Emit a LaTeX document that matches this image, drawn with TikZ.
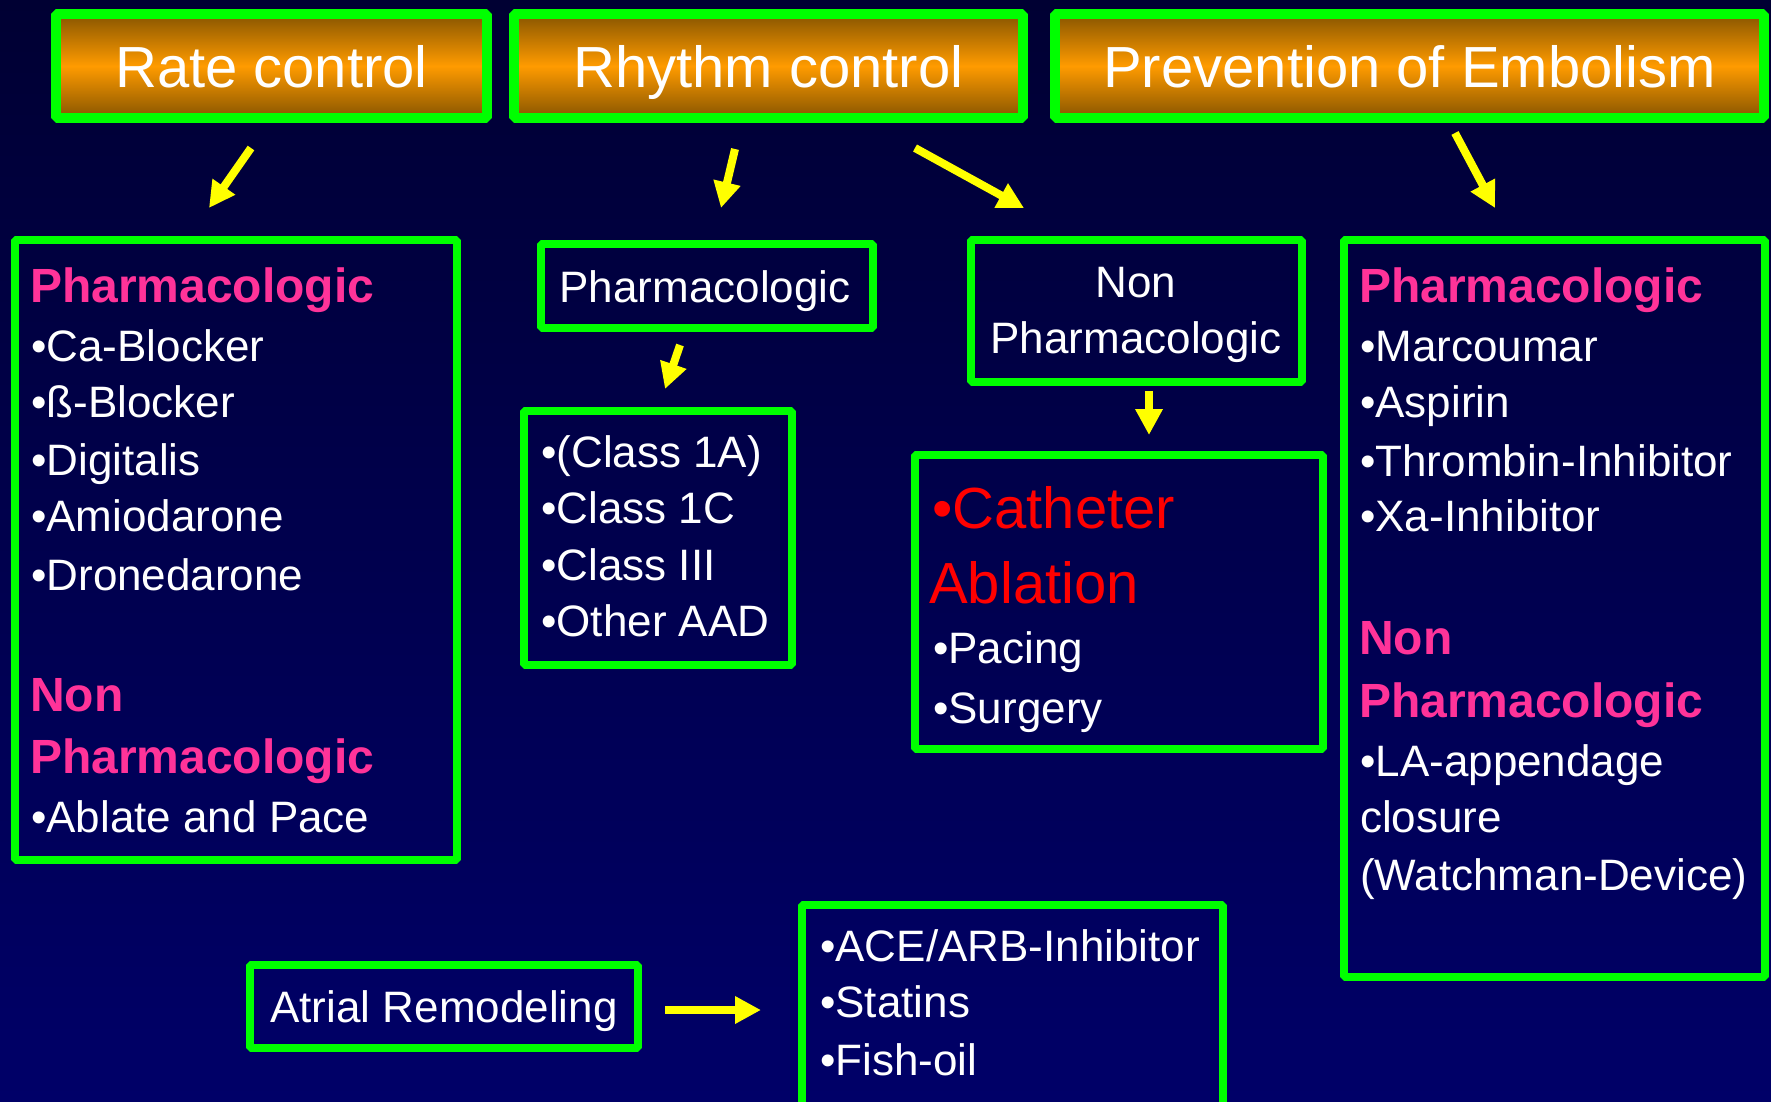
\documentclass[tikz,border=0pt]{standalone}
\usepackage{fontspec}
\setmainfont{Liberation Sans}
\usetikzlibrary{arrows.meta}
\definecolor{bgtop}{RGB}{0,0,51}
\definecolor{bgbot}{RGB}{0,0,104}
\definecolor{grn}{RGB}{0,255,0}
\definecolor{hdark}{RGB}{135,85,0}
\definecolor{horange}{RGB}{255,155,0}
\definecolor{pinkc}{RGB}{255,51,153}
\definecolor{redc}{RGB}{255,0,0}
\definecolor{yel}{RGB}{255,255,0}
\begin{document}
\begin{tikzpicture}[x=1pt,y=-1pt,
  box/.style={draw=grn, line width=8pt, line join=bevel, inner sep=0pt, rectangle},
  hdr/.style={box, line width=10pt, top color=hdark, bottom color=hdark, middle color=horange},
  txt/.style={text=white, font=\fontsize{44}{50}\selectfont, anchor=base west, inner sep=0pt},
  ctxt/.style={txt, anchor=base},
  ptxt/.style={txt, text=pinkc, font=\fontsize{48}{56}\selectfont\bfseries},
  rtxt/.style={txt, text=redc, font=\fontsize{58}{66}\selectfont},
  htxt/.style={text=white, font=\fontsize{58}{66}\selectfont, anchor=base, inner sep=0pt},
  arr/.style={draw=yel, line width=8pt, -{Triangle[length=26pt,width=26pt]}}
]
\useasboundingbox (0,0) rectangle (1771,1101);
\clip (0,0) rectangle (1771,1101);
\shade[top color=bgtop, bottom color=bgbot] (0,0) rectangle (1771,1101);

% headers
\node[hdr, minimum width=431pt, minimum height=104pt] (rate) at (271.5,66) {};
\node[hdr, minimum width=509pt, minimum height=104pt] (rhythm) at (768.5,66) {};
\node[hdr, minimum width=709pt, minimum height=104pt] (prev) at (1409.5,66) {};
\node[htxt] (rateT) at (271.5,87) {Rate control};
\node[htxt] (rhythmT) at (768.5,87) {Rhythm control};
\node[htxt] (prevT) at (1409.5,87) {Prevention of Embolism};

% boxes
\node[box, minimum width=442pt, minimum height=620pt] (left) at (236,550) {};
\node[box, minimum width=332pt, minimum height=84pt] (mph) at (707,286) {};
\node[box, minimum width=268pt, minimum height=254pt] (cls) at (658,538) {};
\node[box, minimum width=331pt, minimum height=142pt] (nph) at (1136.5,311) {};
\node[box, minimum width=408pt, minimum height=294pt] (cath) at (1119,602) {};
\node[box, minimum width=421pt, minimum height=737pt] (right) at (1554.5,608.5) {};
\node[box, minimum width=388pt, minimum height=83pt] (atr) at (444,1006.5) {};
\node[box, minimum width=421pt, minimum height=225pt] (ace) at (1012.5,1017.5) {};

% left box text
\node[ptxt] (l1) at (30,302) {Pharmacologic};
\node[txt] (l2) at (31,361) {•Ca-Blocker};
\node[txt] (l3) at (31,417) {•ß-Blocker};
\node[txt] (l4) at (31,475) {•Digitalis};
\node[txt] (l5) at (31,531) {•Amiodarone};
\node[txt] (l6) at (31,590) {•Dronedarone};
\node[ptxt] (l7) at (30,711) {Non};
\node[ptxt] (l8) at (30,773) {Pharmacologic};
\node[txt] (l9) at (31,832) {•Ablate and Pace};

% middle
\node[ctxt] (m1) at (705,302) {Pharmacologic};
\node[txt] (c1) at (541,467) {•(Class 1A)};
\node[txt] (c2) at (541,523) {•Class 1C};
\node[txt] (c3) at (541,580) {•Class III};
\node[txt] (c4) at (541,636) {•Other AAD};

% non pharmacologic
\node[ctxt] (n1) at (1136,297) {Non};
\node[ctxt] (n2) at (1136,353) {Pharmacologic};
\node[rtxt] (k1) at (932,528) {•Catheter};
\node[rtxt] (k2) at (929,603) {Ablation};
\node[txt] (k3) at (933,663) {•Pacing};
\node[txt] (k4) at (933,723) {•Surgery};

% right box
\node[ptxt] (r1) at (1359,302) {Pharmacologic};
\node[txt] (r2) at (1360,361) {•Marcoumar};
\node[txt] (r3) at (1360,417) {•Aspirin};
\node[txt] (r4) at (1360,476) {•Thrombin-Inhibitor};
\node[txt] (r5) at (1360,531) {•Xa-Inhibitor};
\node[ptxt] (r6) at (1359,654) {Non};
\node[ptxt] (r7) at (1359,717) {Pharmacologic};
\node[txt] (r8) at (1360,776) {•LA-appendage};
\node[txt] (r9) at (1360,832) {closure};
\node[txt] (r10) at (1360,890) {(Watchman-Device)};

% bottom
\node[ctxt] (a1) at (444,1022) {Atrial Remodeling};
\node[txt] (e1) at (820,961) {•ACE/ARB-Inhibitor};
\node[txt] (e2) at (820,1017) {•Statins};
\node[txt] (e3) at (820,1075) {•Fish-oil};

% arrow end points
\coordinate (ra0) at (251,148); \coordinate (ra1) at (209,208);
\coordinate (rh0) at (735,149); \coordinate (rh1) at (721,208);
\coordinate (rn0) at (915,148); \coordinate (rn1) at (1024,208);
\coordinate (pv0) at (1455,133); \coordinate (pv1) at (1495,208);
\coordinate (pc0) at (680,345); \coordinate (pc1) at (665,389);
\coordinate (nc0) at (1149,391); \coordinate (nc1) at (1149,435);
\coordinate (at0) at (665,1010); \coordinate (at1) at (761,1010);

\draw[arr] (ra0) -- (ra1);
\draw[arr] (rh0) -- (rh1);
\draw[arr] (rn0) -- (rn1);
\draw[arr] (pv0) -- (pv1);
\draw[arr] (pc0) -- (pc1);
\draw[arr] (nc0) -- (nc1);
\draw[arr] (at0) -- (at1);
\end{tikzpicture}
\end{document}
